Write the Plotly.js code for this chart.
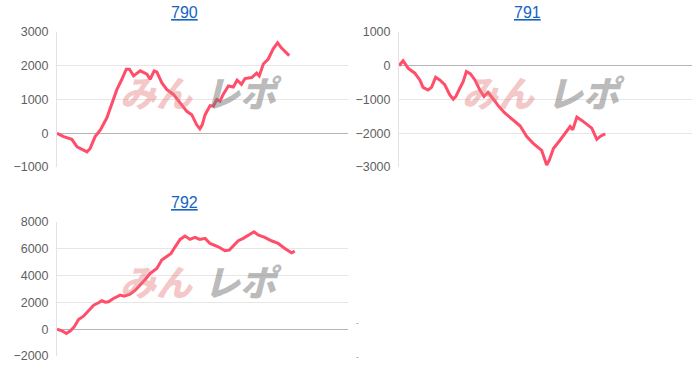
<!DOCTYPE html>
<html>
<head>
<meta charset="utf-8">
<script src="https://cdn.plot.ly/plotly-3.0.1.min.js"></script>
<style>html,body{margin:0;padding:0;background:#fff;}#chart{width:700px;height:368px;}</style>
</head>
<body>
<div id="chart"></div>
<script>
// Machine numbers (subplot titles)
const machines = ["790", "791", "792"];

// Games played (x) and balance (y) for each machine
const games790 = [0,23,51,69,103,114,131,149,171,189,206,223,238,249,263,286,309,320,334,343,360,377,400,423,446,463,480,491,499,509,526,537,549,560,571,589,606,619,634,646,669,686,695,709,726,743,758,771,798];
const vals790  = [0,-100,-180,-400,-550,-450,-100,100,450,900,1300,1600,1900,1900,1700,1850,1750,1600,1850,1820,1500,1300,1150,900,650,550,250,130,250,550,820,800,1000,950,1150,1400,1370,1570,1450,1620,1650,1780,1700,2050,2200,2500,2680,2530,2300];

const games791 = [0,14,31,54,71,82,99,111,125,139,156,173,185,194,208,219,230,244,259,276,290,304,322,339,361,390,413,436,458,487,504,513,527,550,572,584,593,607,624,647,658,675,689,704];
const vals791  = [0,150,-70,-220,-420,-640,-720,-640,-340,-420,-560,-860,-990,-910,-660,-470,-170,-240,-420,-720,-910,-790,-990,-1190,-1400,-1600,-1780,-2100,-2300,-2510,-2940,-2800,-2450,-2200,-1950,-1800,-1900,-1520,-1620,-1780,-1850,-2180,-2080,-2020];

const games792 = [0,17,32,46,59,74,91,109,126,143,154,166,177,194,217,231,251,269,286,303,320,343,360,377,392,406,423,440,457,474,491,509,526,554,577,592,606,623,640,657,677,691,714,737,760,783,806,817];
const vals792  = [0,-120,-320,-120,170,720,970,1370,1790,1970,2120,2020,2040,2290,2540,2470,2620,2910,3290,3710,4160,4530,5160,5460,5660,6150,6700,6950,6700,6850,6700,6780,6400,6150,5850,5900,6200,6600,6780,7030,7270,7030,6850,6600,6400,6030,5700,5820];

const yRanges = [[-1000, 3000], [-3000, 1000], [-2000, 8000]];
const yDticks = [1000, 1000, 2000];
const xMax = 1000;

const W = 700, H = 368;
const px = v => v / W;
const py = v => 1 - v / H;

const lineColor = "rgb(255,77,106)";
const traces = [
  {x: games790, y: vals790, xaxis: "x", yaxis: "y"},
  {x: games791, y: vals791, xaxis: "x2", yaxis: "y2"},
  {x: games792, y: vals792, xaxis: "x3", yaxis: "y3"}
].map(t => Object.assign(t, {type: "scatter", mode: "lines", line: {color: lineColor, width: 3}, hoverinfo: "skip", showlegend: false}));

const boxes = [
  {x0: 57, x1: 348, y0: 32, y1: 167},
  {x0: 399, x1: 692, y0: 32, y1: 167},
  {x0: 57, x1: 348, y0: 222, y1: 356}
];

const layout = {
  width: W, height: H,
  margin: {l: 0, r: 0, t: 0, b: 0},
  paper_bgcolor: "#fff", plot_bgcolor: "rgba(0,0,0,0)",
  font: {family: "Liberation Sans, Arial, sans-serif", color: "#666", size: 12},
  showlegend: false,
  annotations: [],
  shapes: []
};

boxes.forEach((b, i) => {
  const s = i === 0 ? "" : String(i + 1);
  layout["xaxis" + s] = {
    domain: [px(b.x0), px(b.x1)], range: [0, xMax], anchor: "y" + s,
    showticklabels: false, showgrid: false, zeroline: false, showline: false, ticks: "", fixedrange: true
  };
  layout["yaxis" + s] = {
    domain: [py(b.y1), py(b.y0)], range: yRanges[i], dtick: yDticks[i], anchor: "x" + s,
    showgrid: true, gridcolor: "#e6e6e6", gridwidth: 1,
    zeroline: true, zerolinecolor: "#b5b5b5", zerolinewidth: 1,
    showline: true, linecolor: "#e3e3e3", linewidth: 1,
    ticks: "", ticklen: 0, tickfont: {size: 12.5, color: "#5f5f5f"}, ticklabelstandoff: 5,
    fixedrange: true
  };
  const cx = (b.x0 + b.x1) / 2;
  // title
  layout.annotations.push({
    xref: "paper", yref: "paper", x: px(i === 1 ? 527 : 184), y: py(b.y0 - 19),
    text: "<u>" + machines[i] + "</u>", showarrow: false,
    font: {size: 16, color: "#1565c0", family: "Liberation Sans, Arial, sans-serif"},
    xanchor: "center", yanchor: "middle"
  });
  // watermark
  const wy = (b.y0 + b.y1) / 2 - 9;
  layout.annotations.push({
    xref: "paper", yref: "paper", x: px(cx - 46), y: py(wy),
    text: "みん", showarrow: false,
    font: {size: 36, color: "rgba(228,120,120,0.42)", family: "Noto Sans CJK JP", weight: 900, style: "italic"},
    xanchor: "center", yanchor: "middle"
  });
  layout.annotations.push({
    xref: "paper", yref: "paper", x: px(cx + 40), y: py(wy),
    text: "レポ", showarrow: false,
    font: {size: 36, color: "rgba(120,120,120,0.5)", family: "Noto Sans CJK JP", weight: 900, style: "italic"},
    xanchor: "center", yanchor: "middle"
  });
});

// stray tick marks of the empty fourth panel
[322, 356].forEach(yv => layout.annotations.push({
  xref: "paper", yref: "paper", x: px(357), y: py(yv), text: "-", showarrow: false,
  font: {size: 8, color: "#777"}, xanchor: "center", yanchor: "middle"
}));

Plotly.newPlot("chart", traces, layout, {displayModeBar: false, staticPlot: true});
</script>
</body>
</html>
